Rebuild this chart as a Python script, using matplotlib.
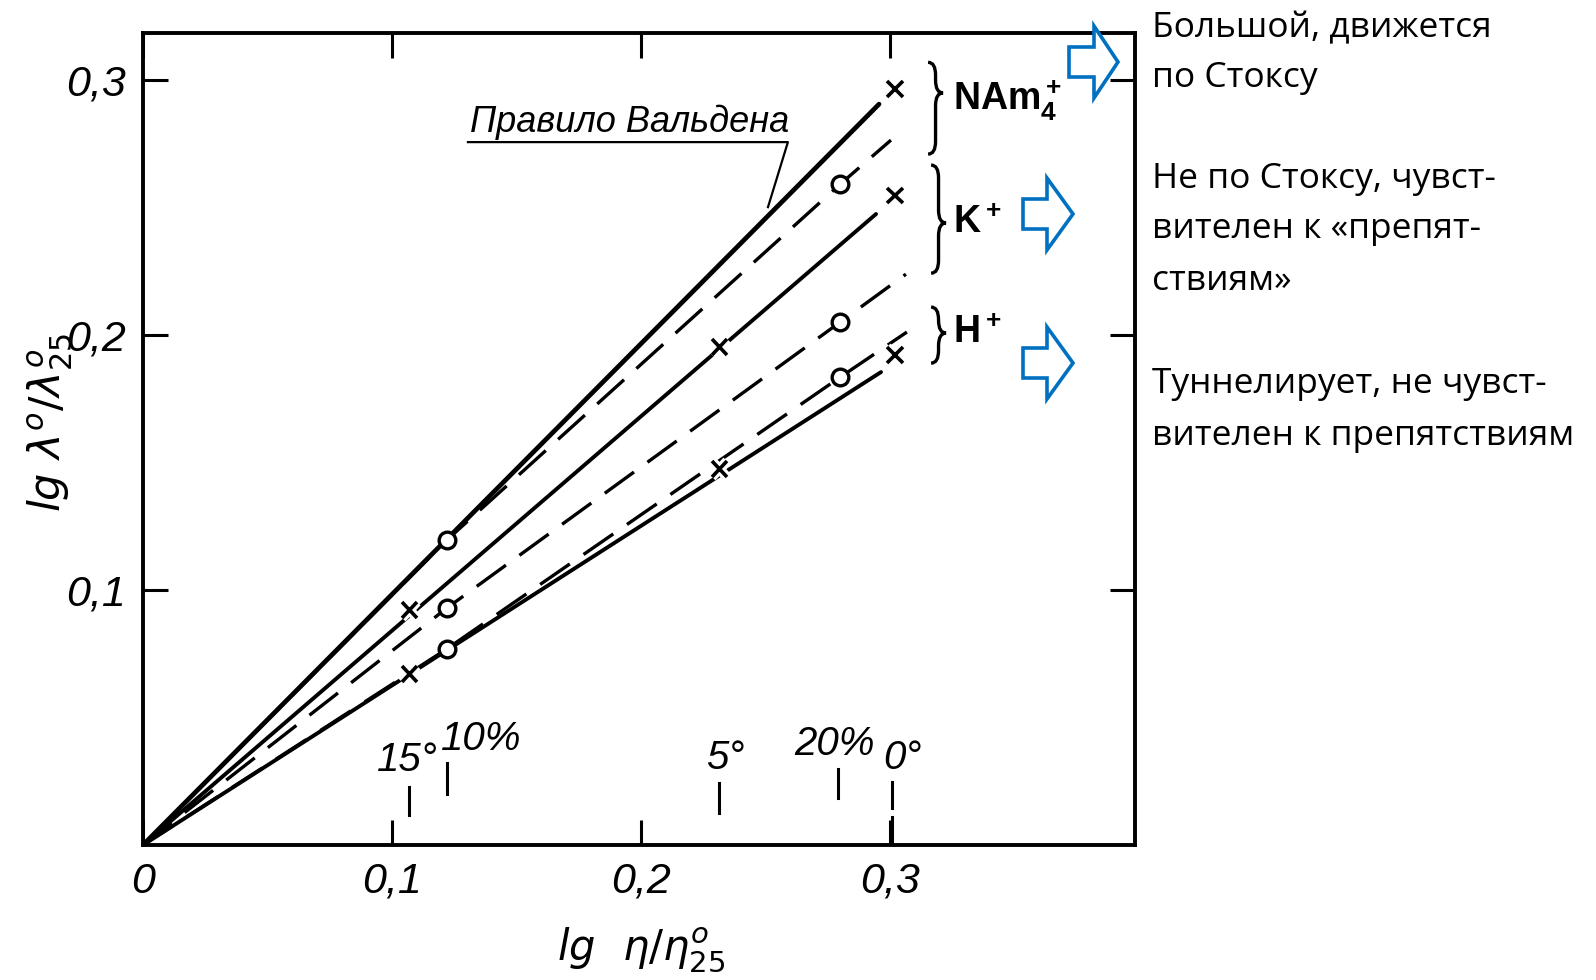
import matplotlib
matplotlib.use("Agg")
import matplotlib.pyplot as plt
import matplotlib.patheffects as pe
from matplotlib import font_manager
from matplotlib.path import Path
from matplotlib.patches import PathPatch, Polygon

# x positions of the marked points
temp_x = [0.107, 0.2315, 0.302]        # 15°, 5°, 0°  (crosses)
conc_x = [0.122, 0.280]                # 10%, 20%     (circles)

# crosses
nam_t_x = [0.302]
nam_t_y = [0.2965]
k_t_y = [0.0922, 0.1953, 0.2549]
h_t_y = [0.0671, 0.1475, 0.1922]

# circles
nam_c_y = [0.1196, 0.2592]
k_c_y = [0.0929, 0.2051]
h_c_y = [0.0769, 0.1835]

# solid lines (from origin to end)
walden_end = (0.2956, 0.2906)
k_solid_end = (0.2944, 0.2475)
h_solid_end = (0.2964, 0.1855)

# dashed lines end points
nam_dash_end = (0.3004, 0.2765)
k_dash_end = (0.3064, 0.2239)
h_dash_end = (0.3068, 0.2012)

# marks above x axis
mark_x = [0.107, 0.122, 0.2315, 0.279, 0.301]
mark_lo = [0.0118, 0.020, 0.0125, 0.0184, 0.0145]
mark_hi = [0.0227, 0.032, 0.0243, 0.030, 0.0247]
mark_labels = ["15°", "10%", "5°", "20%", "0°"]
mark_lab_x = [0.106, 0.136, 0.234, 0.2776, 0.305]
mark_lab_y = [0.0333, 0.0416, 0.0343, 0.0398, 0.0341]

xticks = [0, 0.1, 0.2, 0.3]
xticklabels = ["0", "0,1", "0,2", "0,3"]
yticks = [0.1, 0.2, 0.3]
yticklabels = ["0,1", "0,2", "0,3"]

names = {f.name for f in font_manager.fontManager.ttflist}
narrow = "Liberation Sans Narrow" if "Liberation Sans Narrow" in names else "Liberation Sans"
side_font = ["Open Sans", "DejaVu Sans"]

plt.rcParams["lines.scale_dashes"] = False
plt.rcParams["mathtext.fontset"] = "dejavusans"

W, H = 1596, 980
fig = plt.figure(figsize=(W / 100, H / 100), dpi=100)
ax = fig.add_axes([143 / W, 1 - 845 / H, (1135 - 143) / W, (845 - 33) / H])
ax.set_xlim(0, 0.3984)
ax.set_ylim(0, 0.3185)

for s in ax.spines.values():
    s.set_linewidth(2.8)

ax.set_xticks(xticks)
ax.set_xticklabels(xticklabels)
ax.set_yticks(yticks)
ax.set_yticklabels(yticklabels)
ax.tick_params(direction="in", length=18, width=2.2, top=True, right=True, pad=12, labelsize=31)
for lbl in ax.get_xticklabels() + ax.get_yticklabels():
    lbl.set_fontfamily(narrow)
    lbl.set_style("italic")

halo = [pe.Stroke(linewidth=7, foreground="white"), pe.Normal()]

# solid lines
for end, lw in [(walden_end, 3.4), (k_solid_end, 2.8), (h_solid_end, 2.8)]:
    ax.plot([0, end[0]], [0, end[1]], color="black", lw=lw, solid_capstyle="round", zorder=2)

# dashed lines through the circles
for cy, end in [(nam_c_y, nam_dash_end), (k_c_y, k_dash_end), (h_c_y, h_dash_end)]:
    ax.plot([0] + conc_x + [end[0]], [0] + cy + [end[1]], color="black", lw=2.4,
            dashes=(26, 12), zorder=2)

# crosses
ax.plot(nam_t_x, nam_t_y, ls="none", marker="x", ms=11, mew=2.6, color="black",
        path_effects=halo, zorder=4)
for ty in [k_t_y, h_t_y]:
    ax.plot(temp_x, ty, ls="none", marker="x", ms=11, mew=2.6, color="black",
            path_effects=halo, zorder=4)

# circles
for cy in [nam_c_y, k_c_y, h_c_y]:
    ax.plot(conc_x, cy, ls="none", marker="o", ms=12, mew=2.4, mfc="white", mec="black", zorder=5)

# marks and their labels
for x, lo, hi in zip(mark_x, mark_lo, mark_hi):
    ax.plot([x, x], [lo, hi], color="black", lw=2.2)
ax.plot([mark_x[-1], mark_x[-1]], [0.001, 0.011], color="black", lw=2.2)
for lab, x, y in zip(mark_labels, mark_lab_x, mark_lab_y):
    ax.text(x, y, lab, ha="center", va="center", fontsize=29, style="italic", family=narrow)

# Walden rule label with leader
ax.text(0.1315, 0.2795, "Правило Вальдена", fontsize=26, style="italic", family=narrow,
        ha="left", va="baseline")
ax.plot([0.1305, 0.259, 0.251], [0.2757, 0.2757, 0.2502], color="black", lw=1.6)


def brace(x, ytop, ytip, ybot, w=0.006, dy=0.005):
    h = w * 0.5
    verts = [(x, ytop), (x + h, ytop), (x + h, ytop - dy),
             (x + h, ytip + dy), (x + h, ytip), (x + w, ytip),
             (x + h, ytip), (x + h, ytip - dy),
             (x + h, ybot + dy), (x + h, ybot), (x, ybot)]
    codes = [Path.MOVETO, Path.CURVE3, Path.CURVE3,
             Path.LINETO, Path.CURVE3, Path.CURVE3,
             Path.CURVE3, Path.CURVE3,
             Path.LINETO, Path.CURVE3, Path.CURVE3]
    ax.add_patch(PathPatch(Path(verts, codes), fill=False, lw=2.4, ec="black", clip_on=False))


brace(0.3153, 0.307, 0.295, 0.271)
brace(0.3165, 0.2667, 0.244, 0.2243)
brace(0.3165, 0.211, 0.2008, 0.189)
ion_kw = dict(fontsize=27, fontweight="bold", family=narrow, va="center", ha="left")
ax.text(0.3255, 0.292, r"$\mathregular{NAm_4^+}$", **ion_kw)
ax.text(0.3255, 0.244, r"$\mathregular{K^+}$", **ion_kw)
ax.text(0.3255, 0.2008, r"$\mathregular{H^+}$", **ion_kw)

fig.text(641 / W, 1 - 950 / H, r"$lg\ \ \eta/\eta^{o}_{25}$", fontsize=30,
         ha="center", va="center")
fig.text(50 / W, 1 - 422 / H, r"$lg\ \lambda^{o}/\lambda^{o}_{25}$", fontsize=31,
         ha="center", va="center", rotation=90)


def block_arrow(x0, xh, xt, yc, bh=15, hh=36):
    pts = [(x0, yc - bh), (xh, yc - bh), (xh, yc - hh), (xt, yc),
           (xh, yc + hh), (xh, yc + bh), (x0, yc + bh)]
    pts = [(px / W, 1 - py / H) for px, py in pts]
    fig.add_artist(Polygon(pts, closed=True, fc="white", ec="#0070C0", lw=2.6,
                           transform=fig.transFigure, zorder=6))


block_arrow(1069, 1094, 1118, 62)
block_arrow(1023, 1047, 1073, 214)
block_arrow(1023, 1047, 1073, 363)

side_lines = ["Большой, движется", "по Стоксу",
              "Не по Стоксу, чувст-", "вителен к «препят-", "ствиям»",
              "Туннелирует, не чувст-", "вителен к препятствиям"]
side_base = [37, 87, 188, 238, 290, 393, 445]
for txt, yb in zip(side_lines, side_base):
    fig.text(1152 / W, 1 - yb / H, txt, fontsize=25.5, family=side_font, va="baseline", ha="left")

fig.savefig("out.png", dpi=100)
